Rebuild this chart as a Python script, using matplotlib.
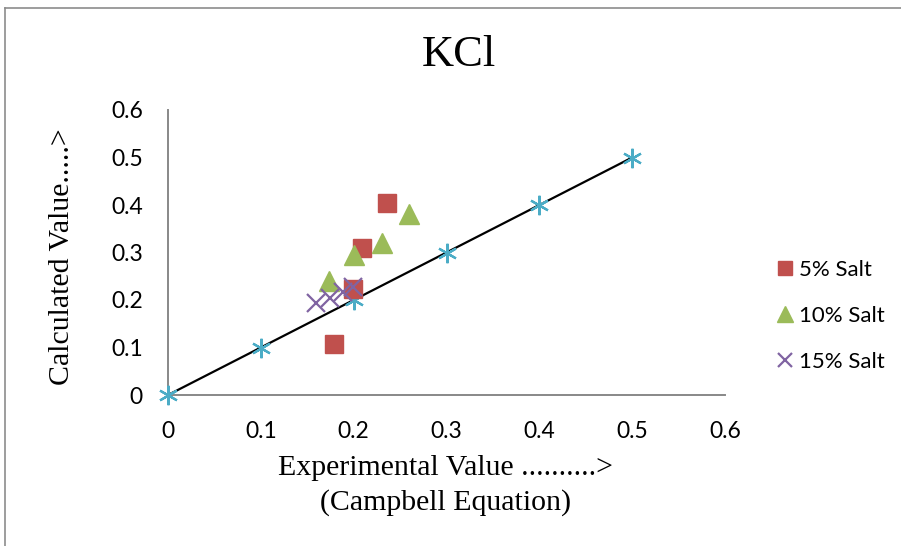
import matplotlib.pyplot as plt
from matplotlib.lines import Line2D

# ideal line (experimental = calculated)
ref_x = [0.0, 0.1, 0.2, 0.3, 0.4, 0.5]
ref_y = [0.0, 0.1, 0.2, 0.3, 0.4, 0.5]

# 5% salt
salt5_x = [0.179, 0.199, 0.209, 0.236]
salt5_y = [0.108, 0.223, 0.310, 0.404]

# 10% salt
salt10_x = [0.173, 0.200, 0.230, 0.260]
salt10_y = [0.240, 0.294, 0.320, 0.382]

# 15% salt
salt15_x = [0.159, 0.175, 0.188, 0.199]
salt15_y = [0.194, 0.205, 0.217, 0.227]

ticks = [0, 0.1, 0.2, 0.3, 0.4, 0.5, 0.6]
tick_labels = ["0", "0.1", "0.2", "0.3", "0.4", "0.5", "0.6"]

fig = plt.figure(figsize=(9.01, 5.46), dpi=100)
ax = fig.add_axes([168 / 901, 1 - 395 / 546, (725 - 168) / 901, (395 - 110) / 546])

ax.plot(ref_x, ref_y, color="black", lw=1.6, zorder=2)
ax.plot(ref_x, ref_y, ls="none", marker=(6, 2, 0), ms=14, mew=1.6,
        color="#4BACC6", zorder=3, clip_on=False)
ax.plot(salt5_x, salt5_y, ls="none", marker="s", ms=13, color="#C0504D",
        label="5% Salt", zorder=4)
ax.plot(salt10_x, salt10_y, ls="none", marker="^", ms=14, color="#9BBB59",
        label="10% Salt", zorder=4)
ax.plot(salt15_x, salt15_y, ls="none", marker="x", ms=13, mew=1.6,
        color="#8064A2", label="15% Salt", zorder=5)

ax.set_xlim(0, 0.6)
ax.set_ylim(0, 0.6)
ax.set_xticks(ticks)
ax.set_yticks(ticks)
ax.set_xticklabels(tick_labels, family="Lato", fontsize=16.5)
ax.set_yticklabels(tick_labels, family="Lato", fontsize=16.5)
ax.tick_params(length=0)
ax.tick_params(axis="y", pad=18)
ax.tick_params(axis="x", pad=19)

for side in ["top", "right"]:
    ax.spines[side].set_visible(False)
for side in ["left", "bottom"]:
    ax.spines[side].set_color("#888888")
    ax.spines[side].set_linewidth(1.4)

leg = fig.legend(*ax.get_legend_handles_labels(), loc="center left",
                 bbox_to_anchor=(775 / 901, 1 - 316 / 546), frameon=False,
                 prop={"family": "Lato", "size": 16}, handlelength=0.9,
                 handletextpad=0.2, labelspacing=1.18, borderpad=0,
                 borderaxespad=0, markerscale=0.82)

fig.text(459 / 901, 1 - 55 / 546, "KCl", family="Liberation Serif",
         fontsize=32, ha="center", va="center")
fig.text(445 / 901, 1 - 468 / 546, "Experimental Value ..........>",
         family="Liberation Serif", fontsize=21.5, ha="center", va="center")
fig.text(446 / 901, 1 - 503 / 546, "(Campbell Equation)",
         family="Liberation Serif", fontsize=21.5, ha="center", va="center")
fig.text(62 / 901, 1 - 257 / 546, "Calculated Value.....>",
         family="Liberation Serif", fontsize=21.5, ha="center", va="center",
         rotation=90)

# chart area border
fig.add_artist(Line2D([5 / 901, 5 / 901], [0, 1 - 8 / 546],
                      transform=fig.transFigure, color="#8c8c8c", lw=1.2))
fig.add_artist(Line2D([5 / 901, 1], [1 - 8 / 546, 1 - 8 / 546],
                      transform=fig.transFigure, color="#8c8c8c", lw=1.2))

fig.savefig("out.png", dpi=100)
